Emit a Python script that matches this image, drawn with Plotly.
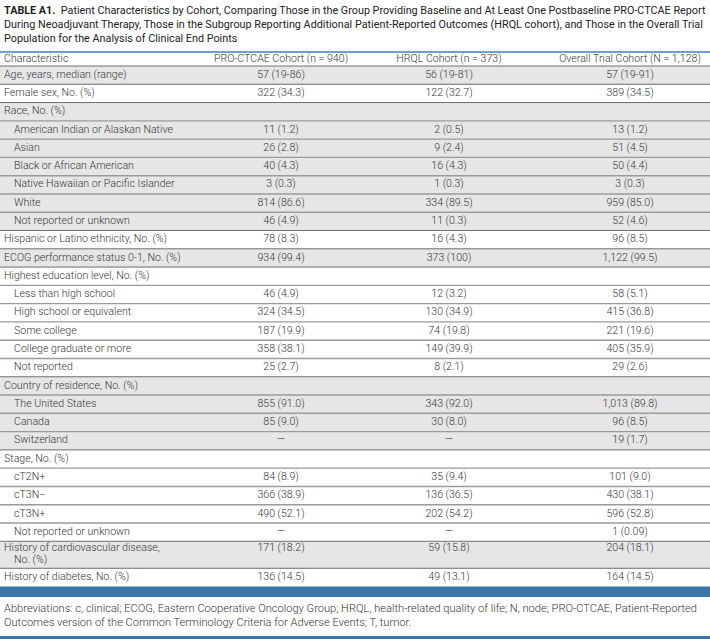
import plotly.graph_objects as go

W, H = 710, 641

title_lines = [
    "<b>TABLE A1.</b>  Patient Characteristics by Cohort, Comparing Those in the Group Providing Baseline and At Least One Postbaseline PRO-CTCAE Report",
    "During Neoadjuvant Therapy, Those in the Subgroup Reporting Additional Patient-Reported Outcomes (HRQL cohort), and Those in the Overall Trial",
    "Population for the Analysis of Clinical End Points",
]

headers = ["Characteristic", "PRO-CTCAE Cohort (n = 940)", "HRQL Cohort (n = 373)", "Overall Trial Cohort (N = 1,128)"]

characteristics = [
    "Age, years, median (range)",
    "Female sex, No. (%)",
    "Race, No. (%)",
    "American Indian or Alaskan Native",
    "Asian",
    "Black or African American",
    "Native Hawaiian or Pacific Islander",
    "White",
    "Not reported or unknown",
    "Hispanic or Latino ethnicity, No. (%)",
    "ECOG performance status 0-1, No. (%)",
    "Highest education level, No. (%)",
    "Less than high school",
    "High school or equivalent",
    "Some college",
    "College graduate or more",
    "Not reported",
    "Country of residence, No. (%)",
    "The United States",
    "Canada",
    "Switzerland",
    "Stage, No. (%)",
    "cT2N+",
    "cT3N\u2212",
    "cT3N+",
    "Not reported or unknown",
    "History of cardiovascular disease,\nNo. (%)",
    "History of diabetes, No. (%)",
]

levels = [0, 0, 0, 1, 1, 1, 1, 1, 1, 0, 0, 0, 1, 1, 1, 1, 1, 0, 1, 1, 1, 0, 1, 1, 1, 1, 0, 0]

pro_ctcae = ["57 (19-86)", "322 (34.3)", "", "11 (1.2)", "26 (2.8)", "40 (4.3)", "3 (0.3)", "814 (86.6)", "46 (4.9)",
             "78 (8.3)", "934 (99.4)", "", "46 (4.9)", "324 (34.5)", "187 (19.9)", "358 (38.1)", "25 (2.7)", "",
             "855 (91.0)", "85 (9.0)", "\u2014", "", "84 (8.9)", "366 (38.9)", "490 (52.1)", "\u2014", "171 (18.2)", "136 (14.5)"]

hrql = ["56 (19-81)", "122 (32.7)", "", "2 (0.5)", "9 (2.4)", "16 (4.3)", "1 (0.3)", "334 (89.5)", "11 (0.3)",
        "16 (4.3)", "373 (100)", "", "12 (3.2)", "130 (34.9)", "74 (19.8)", "149 (39.9)", "8 (2.1)", "",
        "343 (92.0)", "30 (8.0)", "\u2014", "", "35 (9.4)", "136 (36.5)", "202 (54.2)", "\u2014", "59 (15.8)", "49 (13.1)"]

overall = ["57 (19-91)", "389 (34.5)", "", "13 (1.2)", "51 (4.5)", "50 (4.4)", "3 (0.3)", "959 (85.0)", "52 (4.6)",
           "96 (8.5)", "1,122 (99.5)", "", "58 (5.1)", "415 (36.8)", "221 (19.6)", "405 (35.9)", "29 (2.6)", "",
           "1,013 (89.8)", "96 (8.5)", "19 (1.7)", "", "101 (9.0)", "430 (38.1)", "596 (52.8)", "1 (0.09)", "204 (18.1)", "164 (14.5)"]

footnote_lines = [
    "Abbreviations: c, clinical; ECOG, Eastern Cooperative Oncology Group; HRQL, health-related quality of life; N, node; PRO-CTCAE, Patient-Reported",
    "Outcomes version of the Common Terminology Criteria for Adverse Events; T, tumor.",
]

# ---------------- layout geometry ----------------
FONT = "Roboto"
TXT = "#363636"
GRAY = "#e6e6e6"
BLUE_LIGHT = "#6d9fd0"
BLUE_DARK = "#3a76a9"

x_char, x_indent = 4, 14
col_centers = [281, 449, 630]

head_top, head_bot = 52, 66
row_h, row_h2 = 18.28, 27.0

fig = go.Figure()
shapes = []

# row geometry
tops, heights = [], []
y = head_bot
for lab in characteristics:
    h = row_h2 if "\n" in lab else row_h
    tops.append(y)
    heights.append(h)
    y += h
table_bottom = y

# group shading (alternating by top-level group)
group = -1
fills = []
for lv in levels:
    if lv == 0:
        group += 1
    fills.append(GRAY if group % 2 == 0 else "white")

for i, (t, h) in enumerate(zip(tops, heights)):
    if fills[i] != "white":
        shapes.append(dict(type="rect", xref="x", yref="y", x0=0, x1=W, y0=t, y1=t + h,
                           fillcolor=fills[i], line=dict(width=0), layer="below"))
# separators
for i, t in enumerate(tops):
    dark = levels[i] == 0
    shapes.append(dict(type="line", xref="x", yref="y", x0=0, x1=W, y0=t, y1=t,
                       line=dict(color="#6e6e6e" if dark else "#9a9a9a", width=1 if dark else 1.4)))

# header top line
shapes.append(dict(type="line", xref="x", yref="y", x0=0, x1=W, y0=head_top, y1=head_top,
                   line=dict(color=BLUE_LIGHT, width=2)))
# thick bottom band
shapes.append(dict(type="rect", xref="x", yref="y", x0=0, x1=W, y0=table_bottom, y1=table_bottom + 10.5,
                   fillcolor=BLUE_DARK, line=dict(width=0)))
# closing line
shapes.append(dict(type="rect", xref="x", yref="y", x0=0, x1=W, y0=636, y1=639,
                   fillcolor=BLUE_DARK, line=dict(width=0)))

# ---------------- text ----------------
body_font = dict(family=FONT, size=10.6, color=TXT, weight=300)

# characteristic column
cx, cy, ct = [], [], []
for i, lab in enumerate(characteristics):
    parts = lab.split("\n")
    base_x = x_indent if levels[i] == 1 else x_char
    if len(parts) == 1:
        cx.append(base_x); cy.append(tops[i] + heights[i] / 2); ct.append(parts[0])
    else:
        cx.append(base_x); cy.append(tops[i] + 7.5); ct.append(parts[0])
        cx.append(x_indent); cy.append(tops[i] + 19.5); ct.append(parts[1])

fig.add_trace(go.Scatter(x=cx, y=cy, text=ct, mode="text", textposition="middle right",
                         textfont=body_font, hoverinfo="skip", showlegend=False))

def value_y(i):
    return tops[i] + (7.5 if "\n" in characteristics[i] else heights[i] / 2)

for col, vals in zip(col_centers, [pro_ctcae, hrql, overall]):
    fig.add_trace(go.Scatter(x=[col] * len(vals), y=[value_y(i) for i in range(len(vals))], text=vals,
                             mode="text", textposition="middle center", textfont=body_font,
                             hoverinfo="skip", showlegend=False))

# header row
hy = (head_top + head_bot) / 2
fig.add_trace(go.Scatter(x=[x_char], y=[hy], text=[headers[0]], mode="text", textposition="middle right",
                         textfont=body_font, hoverinfo="skip", showlegend=False))
fig.add_trace(go.Scatter(x=col_centers, y=[hy] * 3, text=headers[1:], mode="text", textposition="middle center",
                         textfont=body_font, hoverinfo="skip", showlegend=False))

annotations = []
for k, line in enumerate(title_lines):
    annotations.append(dict(x=2, y=10 + 14 * k, xref="x", yref="y", text=line, showarrow=False,
                            xanchor="left", yanchor="middle", align="left",
                            font=dict(family=FONT, size=10.8, color="#222222")))
for k, line in enumerate(footnote_lines):
    annotations.append(dict(x=2, y=608 + 14 * k, xref="x", yref="y", text=line, showarrow=False,
                            xanchor="left", yanchor="middle", align="left",
                            font=dict(family=FONT, size=11.1, color=TXT, weight=300)))

fig.update_layout(
    width=W, height=H, autosize=False,
    margin=dict(l=0, r=0, t=0, b=0),
    paper_bgcolor="white", plot_bgcolor="white",
    xaxis=dict(range=[0, W], visible=False, fixedrange=True),
    yaxis=dict(range=[H, 0], visible=False, fixedrange=True),
    shapes=shapes, annotations=annotations, showlegend=False,
)

fig.write_html("out.html", config={"displayModeBar": False},
               post_script="document.body.style.margin='0';document.body.style.overflow='hidden';")
